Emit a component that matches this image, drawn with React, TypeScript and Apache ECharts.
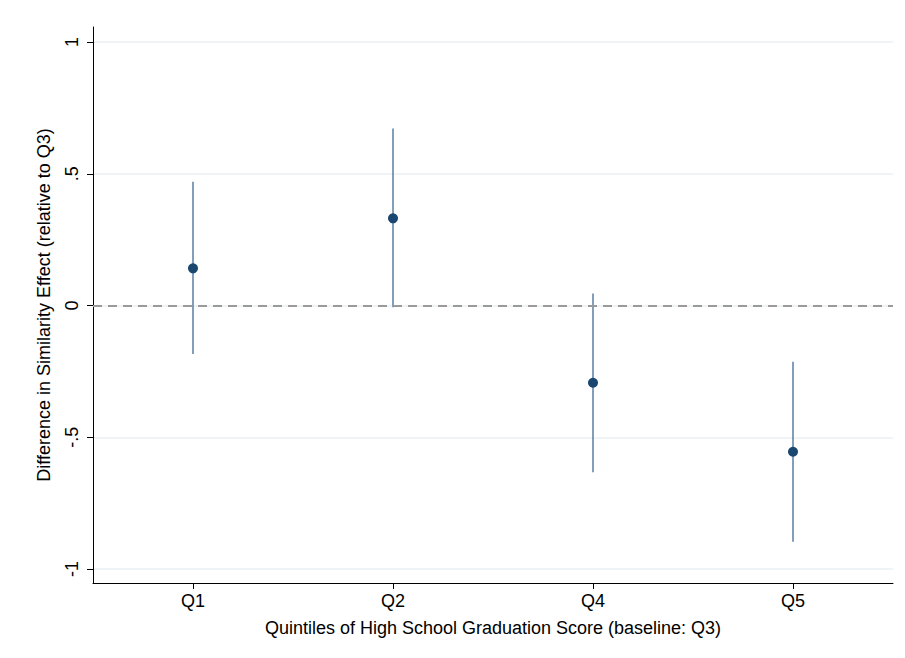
import React, { useEffect, useRef } from "react";
import * as echarts from "echarts";

// Quintile categories (Q3 is the baseline and is omitted)
const categories = ["Q1", "Q2", "Q4", "Q5"];
// Point estimates of the difference in similarity effect
const estimates = [0.141, 0.331, -0.293, -0.555];
// 95% confidence interval bounds
const ciLower = [-0.184, -0.007, -0.633, -0.896];
const ciUpper = [0.47, 0.672, 0.046, -0.213];
// Y-axis tick positions and their labels
const yTicks = [-1, -0.5, 0, 0.5, 1];
const yTickLabels: Record<string, string> = {
  "-1": "-1",
  "-0.5": "-.5",
  "0": "0",
  "0.5": ".5",
  "1": "1",
};

const FONT = "'Liberation Sans', Arial, sans-serif";

export default function App() {
  const ref = useRef<HTMLDivElement>(null);

  useEffect(() => {
    if (!ref.current) return;
    const chart = echarts.init(ref.current, null, { renderer: "svg" });

    const ciData = categories.map((_, i) => [i, ciLower[i], ciUpper[i]]);

    chart.setOption({
      animation: false,
      backgroundColor: "#ffffff",
      grid: { left: 93, right: 12, top: 27, bottom: 75, containLabel: false },
      xAxis: {
        type: "category",
        data: categories,
        boundaryGap: true,
        name: "Quintiles of High School Graduation Score (baseline: Q3)",
        nameLocation: "middle",
        nameGap: 36,
        nameTextStyle: { fontFamily: FONT, fontSize: 18, color: "#000" },
        axisLine: { show: true, onZero: false, lineStyle: { color: "#000", width: 1 } },
        axisTick: { show: true, alignWithLabel: true, length: 6, lineStyle: { color: "#000" } },
        axisLabel: { fontFamily: FONT, fontSize: 18, color: "#000", margin: 9 },
        splitLine: { show: false },
      },
      yAxis: {
        type: "value",
        min: -1.053,
        max: 1.057,
        name: "Difference in Similarity Effect (relative to Q3)",
        nameLocation: "middle",
        nameGap: 40,
        nameTextStyle: { fontFamily: FONT, fontSize: 18, color: "#000" },
        axisLine: { show: true, onZero: false, lineStyle: { color: "#000", width: 1 } },
        axisTick: {
          show: true,
          length: 6,
          customValues: yTicks,
          lineStyle: { color: "#000" },
        },
        axisLabel: {
          fontFamily: FONT,
          fontSize: 18,
          color: "#000",
          rotate: 90,
          margin: 12,
          customValues: yTicks,
          formatter: (v: number) => yTickLabels[String(v)] ?? String(v),
        },
        splitLine: { show: true, lineStyle: { color: "#eaf2f3", width: 1.5 } },
      },
      series: [
        {
          type: "custom",
          data: ciData,
          z: 2,
          renderItem: (params: any, api: any) => {
            const x = api.value(0);
            const p1 = api.coord([x, api.value(1)]);
            const p2 = api.coord([x, api.value(2)]);
            return {
              type: "line",
              shape: { x1: p1[0], y1: p1[1], x2: p2[0], y2: p2[1] },
              style: { stroke: "#3f6a92", lineWidth: 1.3 },
            };
          },
          encode: { x: 0, y: [1, 2] },
        },
        {
          type: "scatter",
          data: estimates.map((v, i) => [i, v]),
          symbol: "circle",
          symbolSize: 10,
          z: 3,
          itemStyle: { color: "#1a476f", opacity: 1 },
          markLine: {
            silent: true,
            symbol: "none",
            label: { show: false },
            lineStyle: { color: "#9a9a9a", type: [9, 6], width: 2, opacity: 1 },
            data: [{ yAxis: 0 }],
          },
        },
      ],
    });

    return () => chart.dispose();
  }, []);

  return (
    <div
      ref={ref}
      style={{ position: "fixed", left: 0, top: 0, width: 905, height: 658 }}
    />
  );
}
